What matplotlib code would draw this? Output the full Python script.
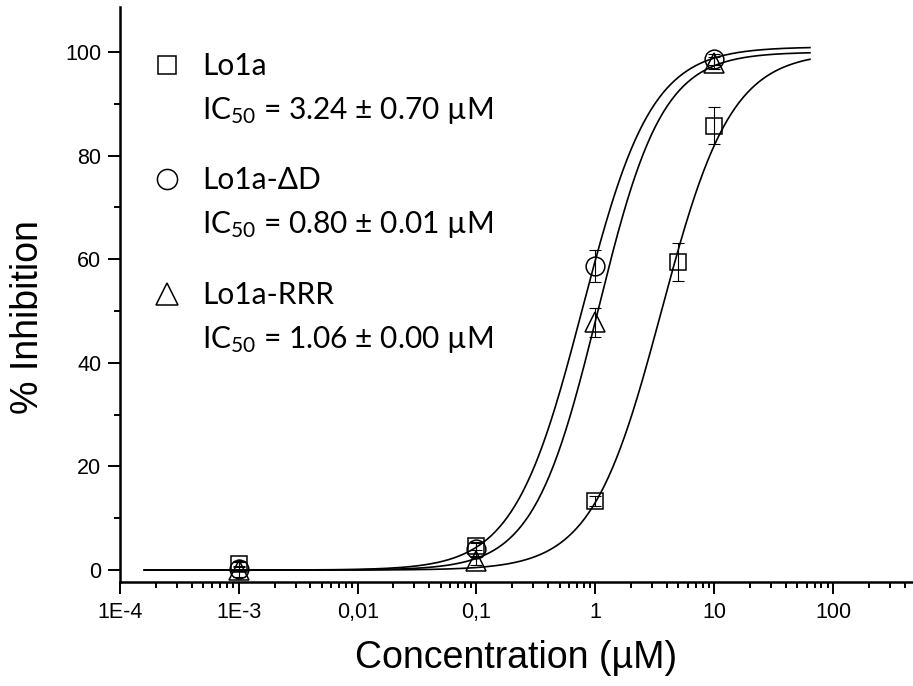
import numpy as np
import matplotlib
matplotlib.use("Agg")
import matplotlib.pyplot as plt
from matplotlib.lines import Line2D
from matplotlib.legend_handler import HandlerLine2D
from matplotlib.ticker import FixedLocator, FixedFormatter

# ---------------- data ----------------
series_names = ["Lo1a", "Lo1a-\u0394D", "Lo1a-RRR"]
ic50_labels = ["IC$_{50}$ = 3.24 \u00b1 0.70 \u00b5M",
               "IC$_{50}$ = 0.80 \u00b1 0.01 \u00b5M",
               "IC$_{50}$ = 1.06 \u00b1 0.00 \u00b5M"]

lo1a_x = [0.001, 0.1, 1, 5, 10]
lo1a_y = [1.2, 4.7, 13.3, 59.5, 85.8]
lo1a_err = [0.6, 0.8, 1.0, 3.6, 3.5]

dd_x = [0.001, 0.1, 1, 10]
dd_y = [0.3, 4.0, 58.7, 98.6]
dd_err = [0.5, 1.2, 3.0, 1.0]

rrr_x = [0.001, 0.1, 1, 10]
rrr_y = [0.1, 1.7, 47.8, 97.9]
rrr_err = [1.5, 0.8, 2.8, 1.2]

# Hill fit parameters (ic50, slope, top, bottom)
fit_ic50 = [3.6, 0.78, 1.05]
fit_slope = [1.48, 1.5, 1.6]
fit_top = [100.0, 101.0, 100.0]
fit_bottom = [0.0, 0.0, 0.0]
fit_range = [1.6e-4, 64]

xtick_vals = [1e-4, 1e-3, 1e-2, 1e-1, 1, 10, 100]
xtick_labels = ["1E-4", "1E-3", "0,01", "0,1", "1", "10", "100"]
ytick_vals = [0, 20, 40, 60, 80, 100]

# ---------------- style ----------------
plt.rcParams["font.family"] = ["Liberation Sans", "DejaVu Sans"]
plt.rcParams["mathtext.fontset"] = "custom"
plt.rcParams["mathtext.rm"] = "Lato"
plt.rcParams["mathtext.it"] = "Lato"
plt.rcParams["mathtext.bf"] = "Lato"

fig = plt.figure(figsize=(9.13, 6.86), dpi=100)
ax = fig.add_axes([120 / 913, 104 / 686, 793 / 913, 575 / 686])

markers = ["s", "o", "^"]
msizes = [11.5, 13.5, 15]
xs = [lo1a_x, dd_x, rrr_x]
ys = [lo1a_y, dd_y, rrr_y]
es = [lo1a_err, dd_err, rrr_err]

xfit = np.logspace(np.log10(fit_range[0]), np.log10(fit_range[1]), 500)
for i in range(3):
    yfit = fit_bottom[i] + (fit_top[i] - fit_bottom[i]) / (1 + (fit_ic50[i] / xfit) ** fit_slope[i])
    ax.plot(xfit, yfit, color="black", lw=1.2, zorder=2)

for i in range(3):
    ax.errorbar(xs[i], ys[i], yerr=es[i], fmt="none", ecolor="black",
                elinewidth=0.8, capsize=4.2, capthick=0.8, zorder=3)
    ax.plot(xs[i], ys[i], ls="none", marker=markers[i], ms=msizes[i],
            mfc="none", mec="black", mew=1.1, zorder=4)

ax.set_xscale("log")
ax.set_xlim(1e-4, 10 ** (2 + 80 / 118.8))
ax.set_ylim(-2.3, 108.7)

ax.xaxis.set_major_locator(FixedLocator(xtick_vals))
ax.xaxis.set_major_formatter(FixedFormatter(xtick_labels))
ax.xaxis.set_minor_locator(matplotlib.ticker.LogLocator(base=10, subs=np.arange(2, 10), numticks=20))
ax.xaxis.set_minor_formatter(matplotlib.ticker.NullFormatter())
ax.set_yticks(ytick_vals)
ax.yaxis.set_minor_locator(matplotlib.ticker.MultipleLocator(10))

for s in ["top", "right"]:
    ax.spines[s].set_visible(False)
for s in ["left", "bottom"]:
    ax.spines[s].set_linewidth(1.8)

ax.tick_params(which="major", direction="out", length=8.5, width=1.4, labelsize=15.5)
ax.tick_params(which="minor", direction="out", length=4.5, width=1.4)
ax.tick_params(axis="x", which="major", pad=6)
ax.tick_params(axis="y", which="major", pad=5)

ax.set_xlabel("Concentration (\u00b5M)", fontsize=27)
ax.set_ylabel("% Inhibition", fontsize=27)
ax.xaxis.set_label_coords(0.5, -0.101)
ax.yaxis.set_label_coords(-0.093, 0.461)


class RaisedMarker(HandlerLine2D):
    def __init__(self, dy, **kw):
        super().__init__(**kw)
        self.dy = dy

    def create_artists(self, legend, orig_handle, xdescent, ydescent, width, height, fontsize, trans):
        arts = super().create_artists(legend, orig_handle, xdescent, ydescent, width, height, fontsize, trans)
        for a in arts:
            a.set_ydata(np.asarray(a.get_ydata(), float) + self.dy)
        return arts


handles = [Line2D([], [], ls="none", marker=markers[i], ms=msizes[i] + 1, mfc="none",
                  mec="black", mew=1.1) for i in range(3)]
labels = [series_names[i] + "\n" + ic50_labels[i] for i in range(3)]
dy = 18
leg = ax.legend(handles, labels, loc="upper left", bbox_to_anchor=(0.0404, 0.922),
                frameon=False, borderpad=0, borderaxespad=0, handlelength=1.0,
                handletextpad=0.67, labelspacing=1.36,
                prop={"family": ["Lato", "DejaVu Sans"], "size": 21.5},
                handler_map={h: RaisedMarker(dy) for h in handles})
for t in leg.get_texts():
    t.set_linespacing(1.62)

fig.savefig("out.png", dpi=100)
